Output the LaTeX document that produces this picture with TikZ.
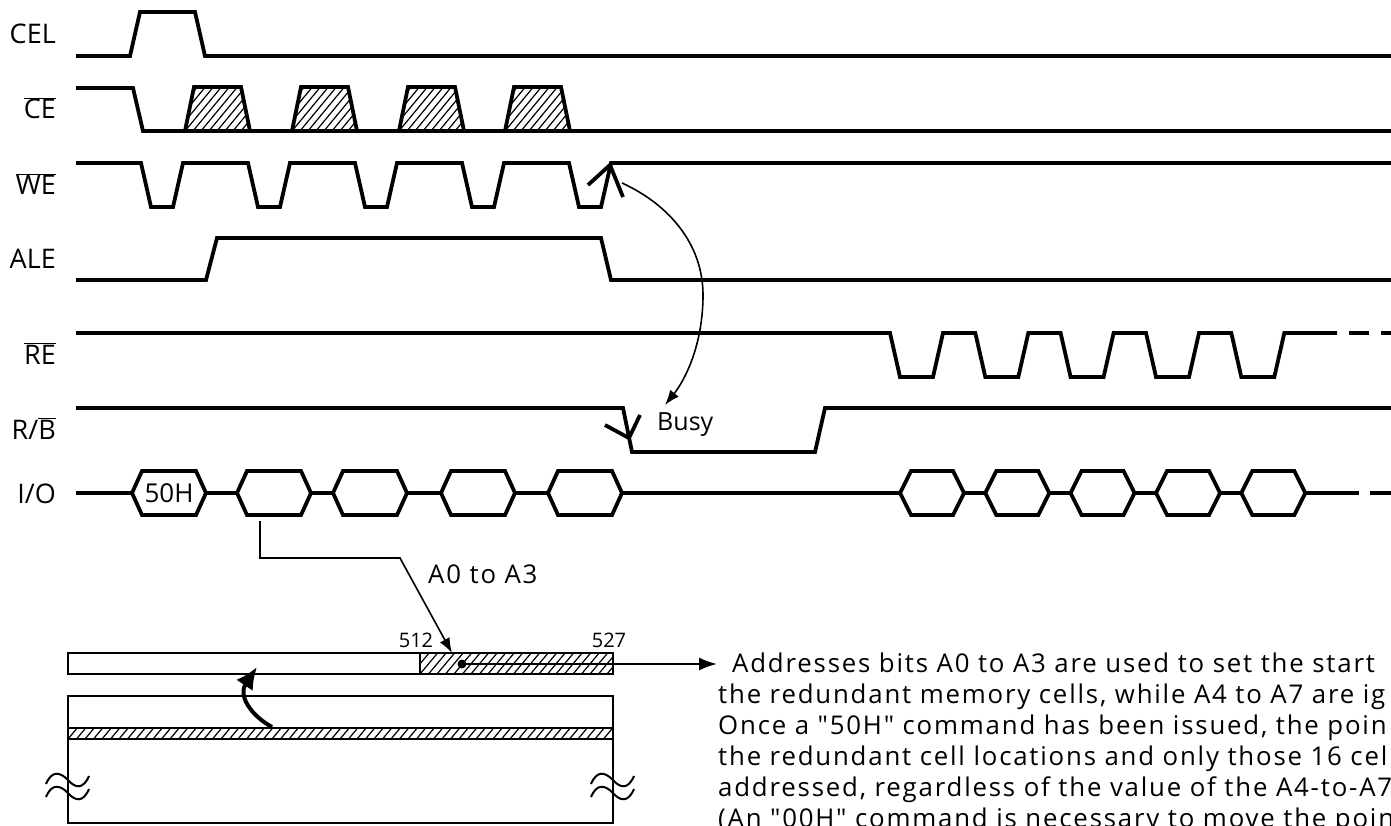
\documentclass[tikz,border=0pt]{standalone}
\usepackage{fontspec}
\setmainfont{Open Sans}
\newfontfamily\bodyfont[LetterSpace=7]{Open Sans}
\usetikzlibrary{arrows.meta}
\newcommand{\ovl}[1]{$\overline{\mbox{#1}}$}
\tikzset{
  sig/.style={line width=3.8pt, line join=miter, line cap=butt},
  thinln/.style={line width=1.8pt},
  hatchln/.style={line width=1.2pt},
  lab/.style={anchor=base east, inner sep=0pt, font=\fontsize{27}{30}\selectfont},
  body/.style={anchor=base west, inner sep=0pt, font=\fontsize{25.8}{31}\bodyfont},
  thinarrow/.style={line width=1.6pt, -{Latex[length=15pt,width=11pt]}},
}
\begin{document}
\begin{tikzpicture}[x=1pt,y=-1pt]
\useasboundingbox (0,0) rectangle (1391,826);
\clip (0,0) rectangle (1391,826);
% ---------- labels
\node[lab] (lcel) at (56,44) {CEL};
\node[lab] (lce) at (56,119) {\ovl{CE}};
\node[lab] (lwe) at (56,194.5) {\ovl{WE}};
\node[lab] (lale) at (56,268.5) {ALE};
\node[lab] (lre) at (56,364) {\ovl{RE}};
\node[lab] (lrb) at (56,439) {R/\ovl{B}};
\node[lab] (lio) at (56,503) {I/O};
% ---------- CEL
\draw[sig] (76,56) -- (130,56) -- (140,12) -- (195,12) -- (205,56) -- (1391,56);
% ---------- CE
\draw[sig] (76,88) -- (133,88) -- (143,131) -- (1391,131);
\foreach \b in {185,292,399,505}{
  \begin{scope}
    \clip (\b,131) -- (\b+9,87) -- (\b+56,87) -- (\b+65,131) -- cycle;
    \foreach \i in {-6,...,9} \draw[hatchln] (\b+\i*8,131) -- ++(38,-46);
  \end{scope}
  \draw[sig] (\b,131) -- (\b+9,87) -- (\b+56,87) -- (\b+65,131);
}
% ---------- WE
\draw[sig] (76,163)
  \foreach \f in {141,248,355,462,569}{ -- (\f,163) -- (\f+10,207) -- (\f+32,207) -- (\f+42,163)}
  -- (1391,163);
% ---------- ALE
\draw[sig] (76,280) -- (206,280) -- (217,238) -- (601,238) -- (611,280) -- (1391,280);
% ---------- RE
\draw[sig] (76,333)
  \foreach \f in {890,975.3,1060.6,1146,1231.3}{ -- (\f,333) -- (\f+10,377) -- (\f+43,377) -- (\f+53,333)}
  -- (1337,333);
\draw[sig] (1349,333) -- (1369,333);
\draw[sig] (1381,333) -- (1391,333);
% ---------- R/B
\draw[sig] (76,408) -- (623,408) -- (632,452) -- (815,452) -- (825,408) -- (1391,408);
% ---------- I/O
\draw[sig] (76,493) -- (132,493);
\foreach \L in {132,237,333,441,548}{
  \draw[sig] (\L,493) -- (\L+10,471) -- (\L+64,471) -- (\L+74,493) -- (\L+64,515) -- (\L+10,515) -- cycle;
}
\draw[sig] (206,493) -- (237,493);
\draw[sig] (311,493) -- (333,493);
\draw[sig] (407,493) -- (441,493);
\draw[sig] (515,493) -- (548,493);
\draw[sig] (622,493) -- (900,493);
\foreach \L in {900,985.3,1070.6,1156,1241.3}{
  \draw[sig] (\L,493) -- (\L+11,471) -- (\L+53,471) -- (\L+64,493) -- (\L+53,515) -- (\L+11,515) -- cycle;
}
\draw[sig] (964,493) -- (985.3,493);
\draw[sig] (1049.3,493) -- (1070.6,493);
\draw[sig] (1134.6,493) -- (1156,493);
\draw[sig] (1220,493) -- (1241.3,493);
\draw[sig] (1305.3,493) -- (1359,493);
\draw[sig] (1370,493) -- (1391,493);
\node[inner sep=0pt, font=\fontsize{26}{30}\selectfont] (h50) at (169,493) {50H};
% ---------- edge marks
\draw[sig] (588,185) -- (610,165) -- (623,197);
\draw[sig] (605,425) -- (629,438) -- (640,415);
% ---------- busy arrow
\coordinate (weedge) at (622,183);
\node[anchor=base west, inner sep=0pt, font=\fontsize{25}{30}\selectfont] (busy) at (657,430) {Busy};
\coordinate (busytip) at (665,405);
\draw[thinarrow] (weedge) .. controls (670,205) and (703,245) .. (703,295)
   .. controls (703,345) and (685,380) .. (busytip);
% ---------- A0 to A3 connector
\coordinate (hexbot) at (260,521);
\coordinate (c512) at (452,653);
\draw[thinarrow] (hexbot) -- (260,558) -- (400,558) -- (c512);
\node[body] (a0a3) at (428,583) {A0 to A3};
% ---------- memory page
\node[anchor=base, inner sep=0pt, font=\fontsize{20}{22}\selectfont] (n512) at (416,647) {512};
\node[anchor=base, inner sep=0pt, font=\fontsize{20}{22}\selectfont] (n527) at (609,647) {527};
\begin{scope}
  \clip (420,653) rectangle (613,674);
  \foreach \i in {-3,...,25} \draw[hatchln] (420+\i*8.5,674) -- ++(17.6,-21);
\end{scope}
\draw[thinln] (68,653) rectangle (613,674);
\draw[thinln] (420,653) -- (420,674);
\begin{scope}
  \clip (68,728) rectangle (613,739);
  \foreach \i in {-2,...,66} \draw[hatchln] (68+\i*8.5,739) -- ++(9.2,-11);
\end{scope}
\draw[thinln] (68,696) rectangle (613,823);
\draw[thinln] (68,728) rectangle (613,739);
\coordinate (dot) at (462,664);
\fill (dot) circle (4.5);
\coordinate (txtarrow) at (717,664);
\draw[line width=1.8pt, -{Latex[length=18pt,width=13pt]}] (dot) -- (txtarrow);
\coordinate (bandpt) at (272,727);
\coordinate (striptip) at (257,667);
\draw[line width=4pt, -{Latex[length=22pt,width=20pt]}] (bandpt) .. controls (250,715) and (238,695) .. (striptip);
% break marks
\foreach \cx in {68,613}{
  \foreach \yy in {780,793}{
    \draw[line width=2pt] (\cx-22,\yy+4) .. controls (\cx-16,\yy-10) and (\cx-8,\yy-8) .. (\cx,\yy)
       .. controls (\cx+7,\yy+8) and (\cx+15,\yy+10) .. (\cx+21,\yy-4);
  }
}
% ---------- text
\node[body] (t1) at (718,672) {\hspace*{14pt}Addresses bits A0 to A3 are used to set the start};
\node[body] (t2) at (718,703) {the redundant memory cells, while A4 to A7 are ig};
\node[body] (t3) at (718,734) {Once a "50H" command has been issued, the poin};
\node[body] (t4) at (718,765) {the redundant cell locations and only those 16 cell};
\node[body] (t5) at (718,796) {addressed, regardless of the value of the A4-to-A7};
\node[body] (t6) at (718,827) {(An "00H" command is necessary to move the poin};
\end{tikzpicture}
\end{document}
